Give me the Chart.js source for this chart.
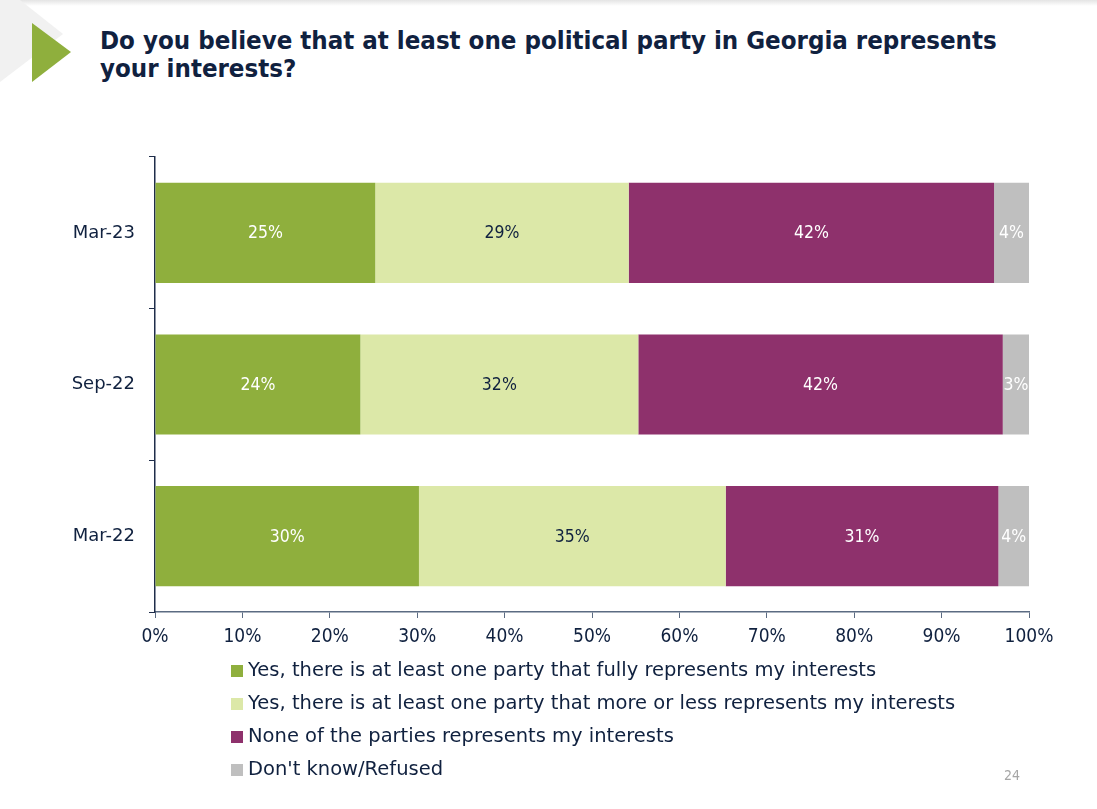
<!DOCTYPE html>
<html>
<head>
<meta charset="utf-8">
<script src="https://cdn.jsdelivr.net/npm/chart.js@4.4.1/dist/chart.umd.min.js"></script>
<style>
	html, body { margin: 0; padding: 0; background: #fff; }
	body { width: 1097px; height: 809px; position: relative; overflow: hidden;
		font-family: "DejaVu Sans Condensed", "DejaVu Sans", sans-serif; }
	#topShade { position: absolute; left: 0; top: 0; width: 1097px; height: 6px;
		background: linear-gradient(#e4e4e4, #ffffff); }
	#deco { position: absolute; left: 0; top: 0; }
	#title { position: absolute; left: 100px; top: 26px; width: 920px; margin: 0;
		font-size: 25.6px; font-weight: bold; line-height: 28px; color: #10213f; }
	#pageNo { position: absolute; left: 1004px; top: 767px; font-size: 14px; color: #a6a6a6; }
	#chartWrap { position: absolute; left: 0; top: 0; width: 1097px; height: 809px; }
</style>
</head>
<body>
<div id="topShade"></div>
<svg id="deco" width="100" height="100">
	<polygon points="0,0 20,0 63,34 0,82" fill="#f1f1f1"/>
	<polygon points="32,23 32,82 71,52" fill="#8faf3d"/>
</svg>
<h1 id="title">Do you believe that at least one political party in Georgia represents your interests?</h1>
<div id="chartWrap"><canvas id="surveyChart"></canvas></div>
<div id="pageNo">24</div>

<script>
// --- DATA ---
const waves = ['Mar-23', 'Sep-22', 'Mar-22'];
const seriesNames = [
	'Yes, there is at least one party that fully represents my interests',
	'Yes, there is at least one party that more or less represents my interests',
	'None of the parties represents my interests',
	"Don't know/Refused"
];
const fullyRepresents = [25.2, 23.5, 30.2];
const moreOrLess = [29.0, 31.8, 35.1];
const noneRepresents = [41.8, 41.7, 31.2];
const dontKnow = [4.0, 3.0, 3.5];
const xTicks = [0, 10, 20, 30, 40, 50, 60, 70, 80, 90, 100];

const seriesColors = ['#8faf3d', '#dce8a8', '#8e316c', '#bfbfbf'];
const labelColors = ['#ffffff', '#10213f', '#ffffff', '#ffffff'];
const condensed = '"DejaVu Sans Condensed", "DejaVu Sans", sans-serif';
const regular = '"DejaVu Sans", sans-serif';
const inkColor = '#10213f';

const seriesValues = [fullyRepresents, moreOrLess, noneRepresents, dontKnow];

/**
 * Writes the rounded percentage in the middle of every bar segment.
 */
const segmentLabels = {
	id: 'segmentLabels',
	afterDatasetsDraw(chart) {
		const ctx = chart.ctx;
		ctx.save();
		ctx.font = '17.5px ' + condensed;
		ctx.textAlign = 'center';
		ctx.textBaseline = 'middle';
		chart.data.datasets.forEach((ds, i) => {
			chart.getDatasetMeta(i).data.forEach((bar, j) => {
				const mid = (bar.x + bar.base) / 2;
				ctx.fillStyle = labelColors[i];
				ctx.fillText(Math.round(ds.data[j]) + '%', mid, bar.y + 1);
			});
		});
		ctx.restore();
	}
};

/**
 * Draws the legend as one item per row under the x axis.
 */
const stackedLegend = {
	id: 'stackedLegend',
	afterDraw(chart) {
		const ctx = chart.ctx;
		const startX = 231;
		const firstY = chart.chartArea.bottom + 59;
		const rowGap = 33;
		ctx.save();
		ctx.font = '19.5px ' + regular;
		ctx.textBaseline = 'middle';
		ctx.textAlign = 'left';
		chart.data.datasets.forEach((ds, i) => {
			const y = firstY + i * rowGap;
			ctx.fillStyle = ds.backgroundColor;
			ctx.fillRect(startX, y - 6, 12, 12);
			ctx.fillStyle = inkColor;
			ctx.fillText(ds.label, startX + 17, y);
		});
		ctx.restore();
	}
};

const datasets = seriesNames.map((name, i) => ({
	label: name,
	data: seriesValues[i],
	backgroundColor: seriesColors[i],
	borderWidth: 0,
	categoryPercentage: 0.66,
	barPercentage: 1
}));

new Chart(document.getElementById('surveyChart'), {
	type: 'bar',
	data: { labels: waves, datasets: datasets },
	options: {
		indexAxis: 'y',
		responsive: true,
		maintainAspectRatio: false,
		animation: false,
		layout: { padding: { top: 157, right: 68, bottom: 157, left: 0 } },
		plugins: {
			legend: { display: false },
			tooltip: { enabled: false }
		},
		scales: {
			x: {
				stacked: true,
				min: 0,
				max: 100,
				afterBuildTicks: scale => { scale.ticks = xTicks.map(v => ({ value: v })); },
				afterFit: scale => { scale.height = 40; },
				ticks: {
					callback: v => v + '%',
					color: inkColor,
					font: { family: condensed, size: 19 },
					padding: 8,
					maxRotation: 0
				},
				grid: { drawOnChartArea: false, drawTicks: true, tickLength: 6, color: '#5b6b82' },
				border: { color: '#5b6b82', width: 1.5 }
			},
			y: {
				stacked: true,
				afterFit: scale => { scale.width = 155; },
				ticks: {
					color: inkColor,
					font: { family: regular, size: 18 },
					padding: 14
				},
				grid: { drawOnChartArea: false, drawTicks: true, tickLength: 6, offset: true, color: '#1f2d4a' },
				border: { color: '#1f2d4a', width: 1.5 }
			}
		}
	},
	plugins: [segmentLabels, stackedLegend]
});
</script>
</body>
</html>
